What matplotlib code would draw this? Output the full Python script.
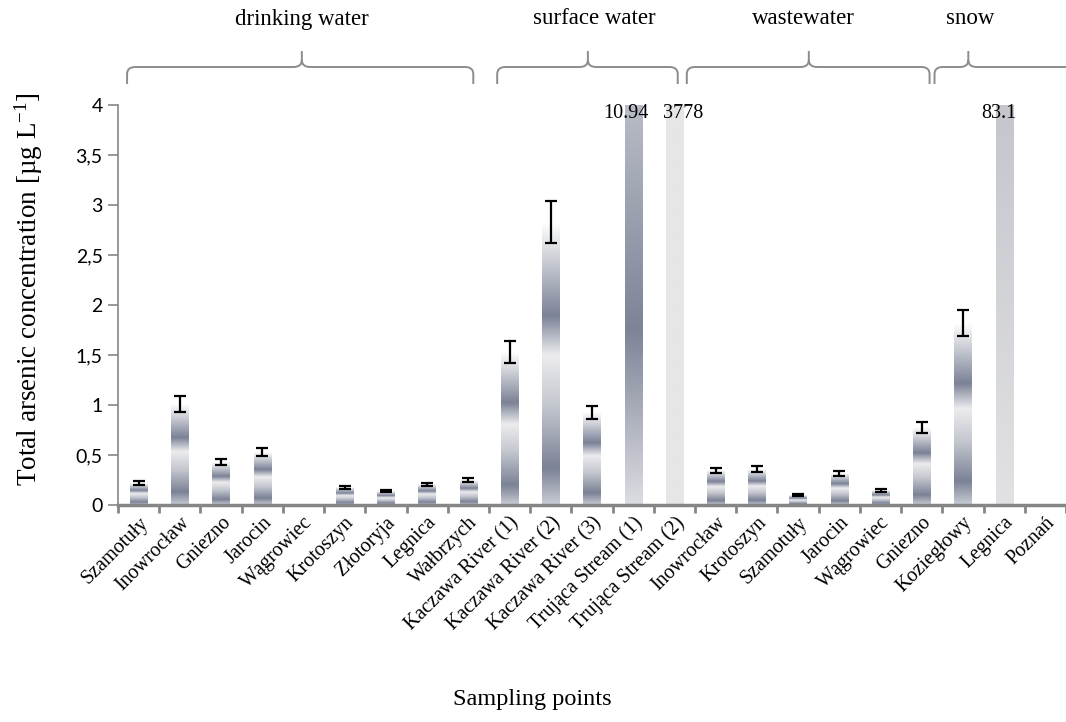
import numpy as np
import matplotlib
matplotlib.use('Agg')
import matplotlib.pyplot as plt
from matplotlib.colors import LinearSegmentedColormap
from matplotlib.path import Path
from matplotlib.patches import PathPatch
from matplotlib.ticker import FuncFormatter, FixedLocator

plt.rcParams['mathtext.fontset'] = 'custom'
plt.rcParams['mathtext.rm'] = 'Liberation Serif'
plt.rcParams['mathtext.it'] = 'Liberation Serif:italic'

# sampling points (x axis), in plot order
sites = ['Szamotuły', 'Inowrocław', 'Gniezno', 'Jarocin', 'Wągrowiec',
         'Krotoszyn', 'Złotoryja', 'Legnica', 'Wałbrzych',
         'Kaczawa River (1)', 'Kaczawa River (2)', 'Kaczawa River (3)',
         'Trująca Stream (1)', 'Trująca Stream (2)',
         'Inowrocław', 'Krotoszyn', 'Szamotuły', 'Jarocin', 'Wągrowiec',
         'Gniezno', 'Koziegłowy',
         'Legnica', 'Poznań']

# total arsenic [ug/L], mean and error
conc = [0.22, 1.01, 0.43, 0.53, 0.0, 0.18, 0.14, 0.21, 0.25,
        1.53, 2.83, 0.93, 10.94, 3778,
        0.35, 0.36, 0.10, 0.32, 0.15, 0.78, 1.82,
        83.1, 0.0]
err = [0.02, 0.08, 0.03, 0.04, 0.0, 0.015, 0.01, 0.015, 0.02,
       0.11, 0.21, 0.065, 0.0, 0.0,
       0.025, 0.03, 0.007, 0.025, 0.015, 0.055, 0.13,
       0.0, 0.0]

groups = ['drinking water', 'surface water', 'wastewater', 'snow']

YMAX = 4

# bracket layout (left end, right end, peak) in category units
brackets = [(-0.28, 8.12, 3.96), (8.70, 13.08, 10.90),
            (13.30, 19.19, 16.26), (19.31, 24.0, 20.13)]
group_text_x = [3.96, 11.05, 16.13, 20.18]

# value label nudges for clipped bars
label_dx = {12: -0.18, 13: 0.22, 21: -0.12}

DARK = '#7b8296'
chrome = LinearSegmentedColormap.from_list('chrome', [
    (0.0, '#c9ccd4'), (0.13, DARK), (0.35, '#c4c7cf'), (0.53, '#ececee'),
    (0.67, DARK), (0.86, '#c8cbd3'), (1.0, '#ffffff')])
special = {
    12: LinearSegmentedColormap.from_list('s1', [
        (0.0, '#dcdde2'), (0.44, '#7d8498'), (1.0, '#b8bcc6')]),
    13: LinearSegmentedColormap.from_list('s2', ['#e6e6e6', '#e6e6e6']),
    21: LinearSegmentedColormap.from_list('sn', ['#e2e2e4', '#c4c6cc']),
}

fig = plt.figure(figsize=(10.66, 7.22), dpi=100)
ax = fig.add_axes([118 / 1066, 217 / 722, 948 / 1066, 400 / 722])

x = np.arange(len(sites))
bars = ax.bar(x, conc, width=0.42, color='none', edgecolor='none', zorder=2)

grad = np.linspace(0, 1, 256).reshape(-1, 1)
for i, rect in enumerate(bars):
    h = min(rect.get_height(), YMAX)
    if h <= 0:
        continue
    x0 = rect.get_x()
    ax.imshow(grad, cmap=special.get(i, chrome), origin='lower', aspect='auto',
              extent=[x0, x0 + rect.get_width(), 0, h], zorder=2,
              interpolation='bilinear')

conc_a = np.array(conc)
err_a = np.array(err)
m = err_a > 0
ax.errorbar(x[m], conc_a[m], yerr=err_a[m], fmt='none', ecolor='black',
            elinewidth=1.6, capsize=4.5, capthick=1.6, zorder=3)

for i, v in enumerate(conc):
    if v > YMAX:
        ax.text(i + label_dx.get(i, 0), 3.91, '{:g}'.format(v), ha='center',
                va='center', fontsize=14.5, family='Liberation Serif', zorder=4)

ax.set_xlim(-0.5, len(sites) - 0.5)
ax.set_ylim(0, YMAX)

# axes styling
for s in ['top', 'right']:
    ax.spines[s].set_visible(False)
ax.spines['left'].set_color('#868686')
ax.spines['left'].set_linewidth(1.2)
ax.spines['bottom'].set_color('#868686')
ax.spines['bottom'].set_linewidth(2.5)

ax.set_yticks(np.arange(0, 4.01, 0.5))
ax.yaxis.set_major_formatter(FuncFormatter(lambda v, p: '{:g}'.format(v).replace('.', ',')))
ax.tick_params(axis='y', length=7, width=1.2, color='#868686', pad=4,
               labelsize=14)
for t in ax.get_yticklabels():
    t.set_family('Lato')

ax.set_xticks(x)
ax.set_xticklabels(sites, rotation=45, ha='right', rotation_mode='anchor',
                   family='Liberation Serif', fontsize=14.5)
ax.tick_params(axis='x', which='major', length=0, pad=6)
ax.xaxis.set_minor_locator(FixedLocator(np.arange(-0.5, len(sites), 1)))
ax.tick_params(axis='x', which='minor', length=6, width=2, color='#868686')

ax.set_ylabel('Total arsenic concentration [µg L$^{-1}$]', family='Liberation Serif',
              fontsize=19.5)
ax.yaxis.set_label_coords(-(118 - 45) / 948, 0.54)
fig.text(532 / 1066, 1 - 700 / 722, 'Sampling points', ha='center', va='center',
         family='Liberation Serif', fontsize=17.5)

# group braces above the plot
y_end, y_h, y_p = 4.21, 4.38, 4.54
rx, ry = 0.2, 0.07
for (x0, x1, xm), name, tx in zip(brackets, groups, group_text_x):
    verts = [(x0, y_end), (x0, y_h - ry), (x0, y_h), (x0 + rx, y_h),
             (xm - rx, y_h), (xm, y_h), (xm, y_h + ry), (xm, y_p),
             (xm, y_h + ry), (xm, y_h), (xm + rx, y_h),
             (x1 - rx, y_h), (x1, y_h), (x1, y_h - ry), (x1, y_end)]
    codes = [Path.MOVETO, Path.LINETO, Path.CURVE3, Path.CURVE3,
             Path.LINETO, Path.CURVE3, Path.CURVE3, Path.LINETO,
             Path.MOVETO, Path.CURVE3, Path.CURVE3,
             Path.LINETO, Path.CURVE3, Path.CURVE3, Path.LINETO]
    ax.add_patch(PathPatch(Path(verts, codes), facecolor='none',
                           edgecolor='#8c8c8c', lw=1.4, clip_on=False))
    ax.text(tx, 4.86, name, ha='center', va='center', family='Liberation Serif',
            fontsize=16.5, clip_on=False)

fig.savefig('out.png', dpi=100)
